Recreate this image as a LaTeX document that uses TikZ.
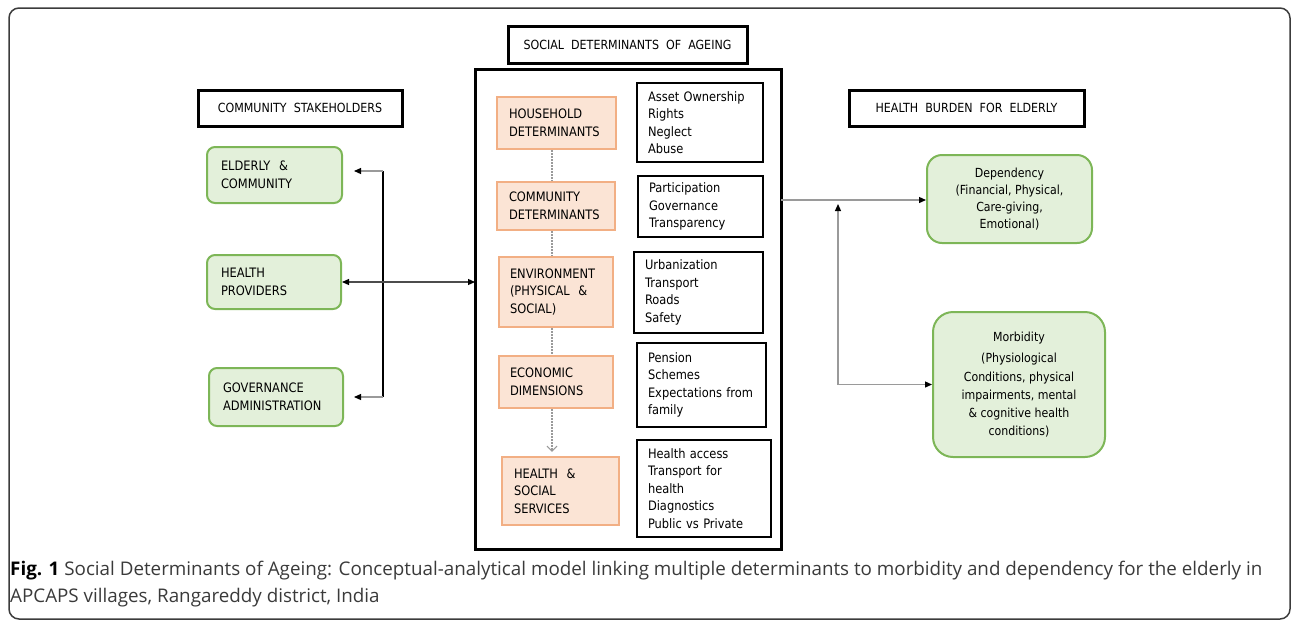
\documentclass[tikz,border=0pt]{standalone}
\usepackage{fontspec}
\setmainfont{DejaVu Sans}[FakeStretch=0.88]
\newfontfamily\capfont{Open Sans}
\usepackage{xcolor}
\usepackage{tikz}
\usetikzlibrary{arrows.meta}

\definecolor{grnfill}{HTML}{E3F0DA}
\definecolor{grnline}{HTML}{7DB657}
\definecolor{orgfill}{HTML}{FBE4D5}
\definecolor{orgline}{HTML}{F2AF84}
\definecolor{linegray}{HTML}{9A9A9A}
\definecolor{framegray}{HTML}{3C3C3C}
\definecolor{captext}{HTML}{3A3A3A}

\begin{document}
\begin{tikzpicture}[x=1pt, y=-1pt,
    every node/.style={inner sep=0pt, font=\fontsize{13}{17.5}\selectfont},
    header/.style={draw, line width=3pt, font=\fontsize{12.6}{14}\selectfont},
    stakebox/.style={draw=grnline, fill=grnfill, line width=2pt, rounded corners=8pt, align=left},
    burdenbox/.style={draw=grnline, fill=grnfill, line width=2pt, rounded corners=15pt, align=center, font=\fontsize{12.5}{17}\selectfont},
    detbox/.style={draw=orgline, fill=orgfill, line width=2.5pt, align=left},
    itembox/.style={draw, line width=1.5pt, align=left},
    blktip/.style={-{Triangle[length=7pt, width=6pt, color=black]}},
    twotip/.style={{Triangle[length=7pt, width=6pt, color=black]}-{Triangle[length=7pt, width=6pt, color=black]}},
    dotline/.style={linegray, line width=1.3pt, dash pattern=on 1.5pt off 1.5pt},
    captionline/.style={anchor=base west, font=\capfont\fontsize{18.8}{27}\selectfont, text=captext}]

    \useasboundingbox (0,0) rectangle (1292,622);
    \draw[framegray, line width=1.5pt, rounded corners=10pt] (9,8) rectangle (1290,619);

    % headers
    \node[header, minimum width=204, minimum height=36] (hdrComm) at (300,108) {COMMUNITY\ \ STAKEHOLDERS};
    \node[header, minimum width=239, minimum height=37] (hdrSoc) at (627.5,44.5) {SOCIAL\ \ DETERMINANTS\ \ OF\ \ AGEING};
    \node[header, minimum width=235, minimum height=36] (hdrBurden) at (966.5,108) {HEALTH\ \ BURDEN\ \ FOR\ \ ELDERLY};

    % stakeholders
    \node[stakebox, minimum width=135, minimum height=56, text width=107] (elderly) at (274.5,175) {ELDERLY \ \&\\COMMUNITY};
    \node[stakebox, minimum width=134, minimum height=54, text width=106] (providers) at (274,282) {HEALTH\\PROVIDERS};
    \node[stakebox, minimum width=134, minimum height=58, text width=106] (govern) at (276,397) {GOVERNANCE\\ADMINISTRATION};

    % determinants
    \draw[line width=3pt] (475,69) rectangle (781,549);
    \coordinate (detW) at (475,282);
    \coordinate (detE) at (781,200);

    \node[detbox, minimum width=119, minimum height=52, text width=95] (household) at (556.5,123) {HOUSEHOLD\\DETERMINANTS};
    \node[detbox, minimum width=118, minimum height=48, text width=94] (commdet) at (556,206) {COMMUNITY\\DETERMINANTS};
    \node[detbox, minimum width=114, minimum height=70, text width=92] (environ) at (556,292) {ENVIRONMENT\\(PHYSICAL \ \&\\SOCIAL)};
    \node[detbox, minimum width=114, minimum height=52, text width=92] (economic) at (556,382) {ECONOMIC\\DIMENSIONS};
    \node[detbox, minimum width=117, minimum height=68, text width=93] (services) at (560.5,491) {HEALTH \ \&\\SOCIAL\\SERVICES};

    \node[itembox, minimum width=126, minimum height=79, text width=104] (asset) at (700,122.5) {Asset Ownership\\Rights\\Neglect\\Abuse};
    \node[itembox, minimum width=125, minimum height=61, text width=103] (particip) at (700.5,206.5) {Participation\\Governance\\Transparency};
    \node[itembox, minimum width=129, minimum height=81, text width=107] (urban) at (698.5,292.5) {Urbanization\\Transport\\Roads\\Safety};
    \node[itembox, minimum width=129, minimum height=84, text width=107] (pension) at (701.5,385) {Pension\\Schemes\\Expectations from\\family};
    \node[itembox, minimum width=134, minimum height=97, text width=112] (access) at (704,488.5) {Health access\\Transport for\\health\\Diagnostics\\Public vs Private};

    \draw[dotline] (household.south -| 552,0) -- (commdet.north -| 552,0);
    \draw[dotline] (commdet.south -| 552,0) -- (environ.north -| 552,0);
    \draw[dotline] (environ.south -| 552,0) -- (economic.north -| 552,0);
    \draw[dotline, -{Straight Barb[length=5pt, width=10pt, line width=1pt]}, shorten >=4pt] (economic.south -| 552,0) -- (services.north -| 552,0);

    % health burden
    \node[burdenbox, minimum width=165, minimum height=88] (depend) at (1009.5,199) {Dependency\\(Financial, Physical,\\Care-giving,\\Emotional)};
    \node[burdenbox, minimum width=172, minimum height=145, rounded corners=20pt] (morbid) at (1019,384.5) {Morbidity\\[4pt](Physiological\\[2pt]Conditions, physical\\[1pt]impairments, mental\\[1pt]\& cognitive health\\[1pt]conditions)};

    % connectors
    \coordinate (busTop) at (383,171);
    \coordinate (busBot) at (383,397);
    \coordinate (upTip) at (838,204);

    \draw[line width=1.3pt] (busTop) -- (busBot);
    \draw[blktip, linegray, line width=1.2pt, shorten >=11pt] (busTop) -- (busTop -| elderly.east);
    \draw[blktip, linegray, line width=1.2pt, shorten >=10pt] (busBot) -- (busBot -| govern.east);
    \draw[twotip, black!70, line width=1.2pt] (providers.east) -- (detW);
    \draw[blktip, linegray, line width=1.2pt] (detE) -- (detE -| depend.west);
    \draw[twotip, linegray, line width=1.2pt] (upTip) |- (morbid.west);

    % caption
    \node[captionline] (capA) at (10,575)
        {\textcolor{black}{\bfseries Fig. 1} Social Determinants of Ageing: Conceptual-analytical model linking multiple determinants to morbidity and dependency for the elderly in};
    \node[captionline] (capB) at (10,602) {APCAPS villages, Rangareddy district, India};
\end{tikzpicture}
\end{document}
